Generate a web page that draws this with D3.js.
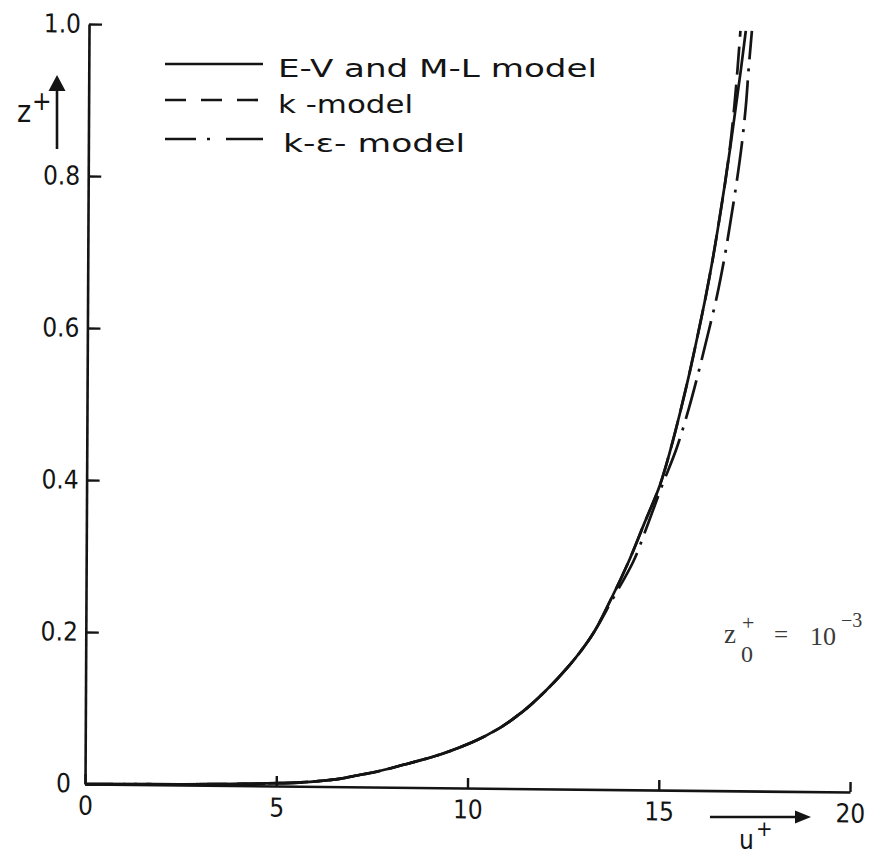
<!DOCTYPE html>
<html>
<head>
<meta charset="utf-8">
<script src="https://cdn.jsdelivr.net/npm/d3@7"></script>
<style>
  html, body { margin: 0; padding: 0; background: #fff; }
  svg { display: block; }
</style>
</head>
<body>
<svg id="chart" width="881" height="856"></svg>
<script>
// Heights z+ at which the velocity profiles are tabulated
const zLevels = [0, 0.001, 0.002, 0.004, 0.007, 0.01, 0.015, 0.02, 0.03, 0.04, 0.06, 0.08, 0.1,
                 0.13, 0.16, 0.2, 0.25, 0.3, 0.35, 0.4, 0.45, 0.5, 0.55, 0.6, 0.65, 0.7,
                 0.75, 0.8, 0.85, 0.9, 0.95, 1.0];

// u+ for the eddy-viscosity and mixing-length models
const uEV = [0, 2.5, 3.8, 5.2, 6.1, 6.6, 7.1, 7.6, 8.35, 9.05, 10.1, 10.85, 11.4,
             12.05, 12.6, 13.2, 13.72, 14.18, 14.58, 14.98, 15.27, 15.52, 15.75, 15.96, 16.16, 16.34,
             16.5, 16.65, 16.79, 16.92, 17.05, 17.17];

// u+ for the one-equation k-model
const uK = [0, 2.5, 3.8, 5.2, 6.1, 6.6, 7.1, 7.6, 8.35, 9.05, 10.1, 10.85, 11.4,
            12.05, 12.6, 13.2, 13.72, 14.18, 14.58, 14.98, 15.27, 15.52, 15.75, 15.96, 16.16, 16.34,
            16.5, 16.65, 16.78, 16.88, 16.96, 17.03];

// u+ for the two-equation k-epsilon model
const uKE = [0, 2.5, 3.8, 5.2, 6.1, 6.6, 7.1, 7.6, 8.35, 9.05, 10.1, 10.85, 11.4,
             12.05, 12.6, 13.2, 13.76, 14.3, 14.68, 15.04, 15.42, 15.72, 15.98, 16.22, 16.45, 16.64,
             16.8, 16.95, 17.08, 17.18, 17.25, 17.33];

const xTicks = [0, 5, 10, 15, 20];
const yTicks = [0, 0.2, 0.4, 0.6, 0.8, 1.0];
const legendLabels = ["E-V and M-L model", "k -model", "k-\u03b5- model"];

const FONT = "'DejaVu Sans Condensed', 'Liberation Sans Narrow', sans-serif";
const LEGEND_FONT = "'DejaVu Sans', 'Liberation Sans', sans-serif";
const INK = "#141414";

const svg = d3.select("#chart");
const x = d3.scaleLinear().domain([0, 20]).range([85, 850]);
const y = d3.scaleLinear().domain([0, 1]).range([784, 24]);

// The plotting frame sits very slightly skewed on the sheet, pinned at the origin.
const frame = svg.append("g")
  .attr("transform", "matrix(1,0.0105,-0.0053,1,4.16,-0.89)");

// ---- axes ----
const yAxis = d3.axisLeft(y)
  .tickValues(yTicks)
  .tickSizeInner(-13)
  .tickSizeOuter(0)
  .tickPadding(8)
  .tickFormat(d => d === 0 ? "0" : d3.format(".1f")(d));

const xAxis = d3.axisBottom(x)
  .tickValues(xTicks)
  .tickSizeInner(-10)
  .tickSizeOuter(0)
  .tickPadding(12)
  .tickFormat(d3.format("d"));

function styleAxis(g) {
  g.select(".domain").attr("stroke", INK).attr("stroke-width", 2.6);
  g.selectAll(".tick line").attr("stroke", INK).attr("stroke-width", 2.4);
  g.selectAll(".tick text")
    .attr("fill", INK)
    .style("font-family", FONT)
    .style("font-size", "26px");
}

const gy = frame.append("g").attr("transform", `translate(${x(0)},0)`).call(yAxis).call(styleAxis);
gy.selectAll(".tick").filter(d => d === 0).select("text").attr("x", -14).attr("dy", "0.30em");

frame.append("g").attr("transform", `translate(0,${y(0)})`).call(xAxis).call(styleAxis);

// ---- profiles ----
const line = d3.line()
  .x(d => x(d[0]))
  .y(d => y(d[1]))
  .curve(d3.curveMonotoneY);

const series = [
  { u: uEV, dash: null },
  { u: uK, dash: "28,10" },
  { u: uKE, dash: "40,9,3,9" }
];

frame.append("g").selectAll("path")
  .data(series)
  .join("path")
  .attr("d", s => line(s.u.map((u, i) => [u, zLevels[i]])))
  .attr("fill", "none")
  .attr("stroke", INK)
  .attr("stroke-width", 2.7)
  .attr("stroke-dasharray", s => s.dash);

// ---- legend ----
const legendDash = [null, "21,15", "31,11,3,16,40"];
const legendY = [64, 100, 139];
const legendTextX = [278, 278, 283];
const legendTextW = [319, 135, 182];

const lg = svg.append("g");
legendLabels.forEach((label, i) => {
  lg.append("line")
    .attr("x1", 165).attr("x2", 263)
    .attr("y1", legendY[i]).attr("y2", legendY[i])
    .attr("stroke", INK).attr("stroke-width", 2.7)
    .attr("stroke-dasharray", legendDash[i]);
  lg.append("text")
    .attr("x", legendTextX[i]).attr("y", legendY[i] + 13)
    .attr("fill", INK)
    .style("font-family", LEGEND_FONT).style("font-size", "25px")
    .attr("textLength", legendTextW[i])
    .attr("lengthAdjust", "spacingAndGlyphs")
    .text(label);
});

// ---- axis titles with arrows ----
// z+ pointing up
svg.append("line").attr("x1", 57).attr("x2", 57).attr("y1", 149).attr("y2", 88)
  .attr("stroke", INK).attr("stroke-width", 2.6);
svg.append("path").attr("d", "M57,75 L65.5,91 L48.5,91 Z").attr("fill", INK);
svg.append("text").attr("x", 17).attr("y", 122)
  .attr("fill", INK).style("font-family", FONT).style("font-size", "30px").text("z");
svg.append("text").attr("x", 32).attr("y", 110)
  .attr("fill", INK).style("font-family", FONT).style("font-size", "26px").text("+");

// u+ pointing right
svg.append("line").attr("x1", 710).attr("x2", 798).attr("y1", 817).attr("y2", 817)
  .attr("stroke", INK).attr("stroke-width", 2.6);
svg.append("path").attr("d", "M811,817 L795,810.5 L795,823.5 Z").attr("fill", INK);
svg.append("text").attr("x", 739).attr("y", 849)
  .attr("fill", INK).style("font-family", FONT).style("font-size", "26px").text("u");
svg.append("text").attr("x", 756).attr("y", 836)
  .attr("fill", INK).style("font-family", FONT).style("font-size", "22px").text("+");

// ---- roughness annotation ----
const SERIF = "'Liberation Serif', 'DejaVu Serif', serif";
const ANN = "#3a3a3a";
const ann = svg.append("g").attr("fill", ANN).style("font-family", SERIF);
ann.append("text").attr("x", 724).attr("y", 643).style("font-size", "27px").text("z");
ann.append("text").attr("x", 742).attr("y", 630).style("font-size", "22px").text("+");
ann.append("text").attr("x", 741).attr("y", 662).style("font-size", "24px").text("0");
ann.append("text").attr("x", 774).attr("y", 643).style("font-size", "25px").text("=");
ann.append("text").attr("x", 810).attr("y", 645).style("font-size", "26px").text("10");
ann.append("text").attr("x", 841).attr("y", 627).style("font-size", "20px").text("\u22123");
</script>
</body>
</html>
